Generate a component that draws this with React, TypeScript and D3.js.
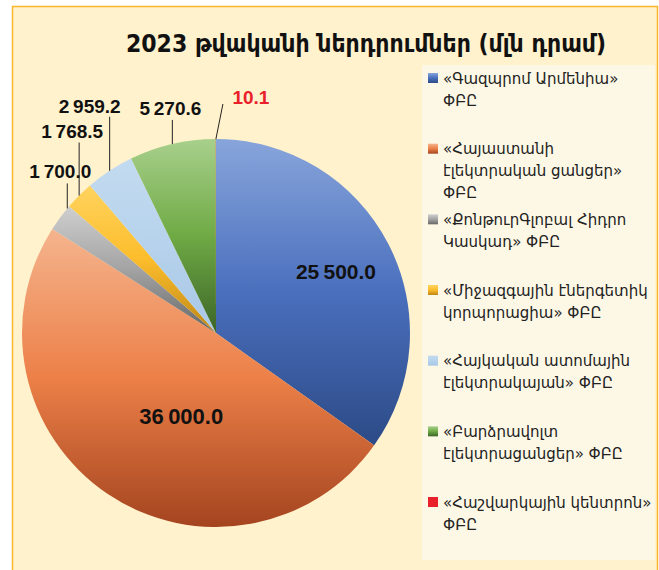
import React, { useEffect, useRef } from 'react';
import * as d3 from 'd3';

// investments in 2023, mln AMD
const companies = [
  ['«Գազպրոմ Արմենիա»', 'ՓԲԸ'],
  ['«Հայաստանի', 'էլեկտրական ցանցեր»', 'ՓԲԸ'],
  ['«ՔոնթուրԳլոբալ Հիդրո', 'Կասկադ» ՓԲԸ'],
  ['«Միջազգային էներգետիկ', 'կորպորացիա» ՓԲԸ'],
  ['«Հայկական ատոմային', 'էլեկտրակայան» ՓԲԸ'],
  ['«Բարձրավոլտ', 'էլեկտրացանցեր» ՓԲԸ'],
  ['«Հաշվարկային կենտրոն»', 'ՓԲԸ'],
];
const investments = [25500, 36000, 1700, 1768.5, 2959.2, 5270.6, 10.1];

// light / base / dark stops of the per-slice gradient
const sliceColors = [
  ['#88a5db', '#4a6fbd', '#2c4a86'],
  ['#f5b48d', '#ec8048', '#a4441f'],
  ['#cfcfcf', '#a3a3a3', '#666666'],
  ['#ffd35e', '#fcbd2c', '#bd8615'],
  ['#c3dbf0', '#b6d2ec', '#a8c8e6'],
  ['#a8d08c', '#6faa45', '#3c6527'],
  ['#e8202a', '#e8202a', '#e8202a'],
];

const W = 659, H = 570;

const App = () => {
  const ref = useRef<SVGSVGElement>(null);

  useEffect(() => {
    const svg = d3.select(ref.current);
    svg.selectAll('*').remove();

    const locale = d3.formatLocale({ decimal: '.', thousands: '\u2009', grouping: [3], currency: ['', ''] });
    const fmt = locale.format(',.1f');

    // frame
    svg.append('rect')
      .attr('x', 12.5).attr('y', 6.5).attr('width', 645).attr('height', H + 10)
      .attr('fill', '#fff2cc').attr('stroke', '#fbb62c').attr('stroke-width', 1.5);

    svg.append('text')
      .attr('x', 366).attr('y', 52)
      .attr('text-anchor', 'middle')
      .attr('font-family', 'DejaVu Sans Condensed, DejaVu Sans')
      .attr('font-weight', 'bold')
      .attr('font-size', 24.5)
      .attr('fill', '#111')
      .text('2023 թվականի ներդրումներ (մլն դրամ)');

    const defs = svg.append('defs');
    sliceColors.forEach((c, i) => {
      const g = defs.append('linearGradient').attr('id', 'sg' + i)
        .attr('x1', 0).attr('y1', 0).attr('x2', 0).attr('y2', 1);
      g.append('stop').attr('offset', '0%').attr('stop-color', c[0]);
      g.append('stop').attr('offset', '50%').attr('stop-color', c[1]);
      g.append('stop').attr('offset', '100%').attr('stop-color', c[2]);
    });

    const cx = 216, cy = 333, r = 194;
    const pie = d3.pie<number>().sort(null).value(d => d)(investments);
    const arc = d3.arc<d3.PieArcDatum<number>>().innerRadius(0).outerRadius(r);

    const g = svg.append('g').attr('transform', `translate(${cx},${cy})`);
    g.selectAll('path')
      .data(pie)
      .join('path')
      .attr('d', arc)
      .attr('fill', (d, i) => `url(#sg${i})`);

    const pt = (a: number, rr: number) => [rr * Math.sin(a), -rr * Math.cos(a)];

    // label placement, like the hand-moved labels of the original
    const layout = [
      { inner: true, rr: 135, dx: 0, dy: 8, size: 21 },
      { inner: true, rr: 100, dx: 21, dy: 8, size: 22 },
      { frac: 0.9, lx: 0, ly: 25, tx: -7, ty: -5, size: 19 },
      { frac: 0.5, lx: 0, ly: 53, tx: -7, ty: -5, size: 19 },
      { frac: 0.5, lx: 0, ly: 54, tx: -20, ty: -4, size: 19 },
      { frac: 0.5, lx: 0, ly: 24, tx: -2, ty: -5, size: 19 },
      { frac: 0.5, lx: 7, ly: 35, tx: 28, ty: 0, size: 19 },
    ];

    pie.forEach((d, i) => {
      const L: any = layout[i];
      const label = g.append('text')
        .attr('text-anchor', 'middle')
        .attr('font-family', 'Liberation Sans, Arial, sans-serif')
        .attr('font-weight', 'bold')
        .attr('font-size', L.size)
        .attr('fill', i === 6 ? '#e8202a' : '#111')
        .text(fmt(d.value));
      if (L.inner) {
        const [x, y] = pt((d.startAngle + d.endAngle) / 2, L.rr);
        label.attr('x', x + L.dx).attr('y', y + L.dy);
      } else {
        const a = d.startAngle + (d.endAngle - d.startAngle) * L.frac;
        const [x, y] = pt(a, r);
        const x2 = x + L.lx, y2 = y - L.ly;
        g.append('line')
          .attr('x1', x).attr('y1', y).attr('x2', x2).attr('y2', y2)
          .attr('stroke', '#222').attr('stroke-width', 1);
        label.attr('x', x2 + L.tx).attr('y', y2 + L.ty);
      }
    });

    // legend
    svg.append('rect')
      .attr('x', 422).attr('y', 65).attr('width', 233).attr('height', 495)
      .attr('fill', '#fdf8e6');

    const ly = d3.scaleLinear().domain([0, companies.length - 1]).range([78, 502]);
    const leg = svg.append('g')
      .selectAll('g')
      .data(companies)
      .join('g')
      .attr('transform', (d, i) => `translate(428,${ly(i)})`);
    leg.append('rect')
      .attr('x', 0).attr('y', -5).attr('width', 10).attr('height', 10)
      .attr('fill', (d, i) => `url(#sg${i})`);
    leg.append('text')
      .attr('font-family', 'DejaVu Sans')
      .attr('font-size', 15)
      .attr('fill', '#222')
      .selectAll('tspan')
      .data(d => d)
      .join('tspan')
      .attr('x', 15)
      .attr('y', (t, j) => 5.5 + j * 22)
      .text(t => t);
  }, []);

  return (
    <svg ref={ref} width={W} height={H}
      style={{ position: 'absolute', left: 0, top: 0, background: '#fff' }} />
  );
};

export default App;
